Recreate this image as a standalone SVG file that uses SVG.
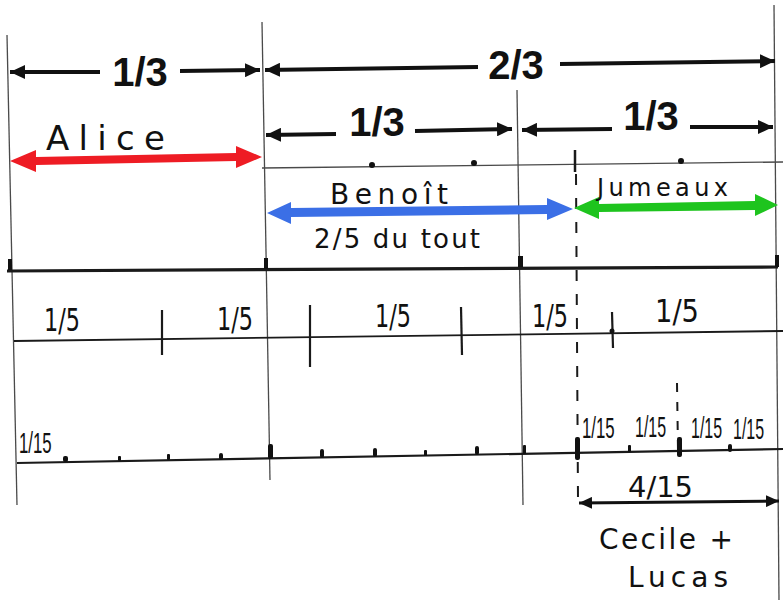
<svg xmlns="http://www.w3.org/2000/svg" width="783" height="608" viewBox="0 0 783 608">
<style>
.grid{stroke:#4a4a4a;stroke-width:1.3;fill:none}
.rule{stroke:#1a1a1a;fill:none}
.arr{stroke:#111;stroke-width:4;fill:none}
.big{font-family:"Liberation Sans",Arial,sans-serif;font-weight:bold;font-size:40px;fill:#111}
.hand{font-family:"DejaVu Sans","Noto Sans",sans-serif;fill:#111}
.frac{font-family:"Liberation Sans",Arial,sans-serif;font-size:16px;fill:#111}
.blob{fill:#111}
</style>
<defs>
<marker id="ah" markerUnits="userSpaceOnUse" markerWidth="16" markerHeight="14" refX="15" refY="7" orient="auto">
<path d="M0,0 L15,7 L0,14 z" fill="#111"/>
</marker>
<marker id="ahs" markerUnits="userSpaceOnUse" markerWidth="14" markerHeight="12" refX="13" refY="6" orient="auto-start-reverse">
<path d="M0,0 L13,6 L0,12 z" fill="#111"/>
</marker>
</defs>
<rect width="783" height="608" fill="#fff"/>

<g id="grid">
<line class="grid" x1="7" y1="35" x2="17" y2="505"/>
<line class="grid" x1="262" y1="22" x2="270" y2="480"/>
<line class="grid" x1="517" y1="90" x2="523" y2="505"/>
<line class="grid" x1="774" y1="5" x2="779" y2="600"/>
<line class="grid" x1="262" y1="168" x2="783" y2="162"/>
<line class="rule" stroke-width="3.2" x1="7" y1="271" x2="778" y2="267"/>
<line class="rule" stroke-width="1.8" x1="14" y1="341" x2="783" y2="331"/>
<line class="rule" stroke-width="2.2" x1="17" y1="463" x2="783" y2="449"/>
<line class="rule" stroke-width="2" stroke-dasharray="11 13" x1="576" y1="174" x2="578" y2="500"/>
<line class="rule" stroke-width="2" stroke-dasharray="9 10" x1="677" y1="383" x2="678" y2="450"/>
<line class="rule" stroke-width="2.5" x1="575" y1="150" x2="575" y2="172"/>
</g>

<g id="ticks">
<rect class="blob" x="8" y="259" width="4" height="11"/>
<rect class="blob" x="264" y="258" width="4" height="11"/>
<rect class="blob" x="518" y="256" width="5" height="11"/>
<rect class="blob" x="775" y="255" width="4" height="12"/>
<circle class="blob" cx="372" cy="165" r="3"/>
<circle class="blob" cx="474" cy="163" r="3"/>
<circle class="blob" cx="681" cy="161" r="3"/>
<line class="rule" stroke-width="2.2" x1="162" y1="310" x2="162" y2="355"/>
<line class="rule" stroke-width="2.2" x1="310" y1="305" x2="310" y2="367"/>
<line class="rule" stroke-width="2.2" x1="461" y1="307" x2="462" y2="355"/>
<line class="rule" stroke-width="2.2" x1="612" y1="312" x2="613" y2="348"/>
<circle class="blob" cx="612" cy="331" r="2.5"/>
<g class="blob">
<rect x="63" y="456" width="5" height="6" rx="2"/>
<rect x="118" y="456" width="3" height="5" rx="1"/>
<rect x="167" y="454" width="3" height="6" rx="1"/>
<rect x="219" y="453" width="4" height="7" rx="2"/>
<rect x="268" y="444" width="5" height="15" rx="2"/>
<rect x="320" y="449" width="4" height="9" rx="2"/>
<rect x="373" y="448" width="4" height="9" rx="2"/>
<rect x="424" y="450" width="3" height="6" rx="1"/>
<rect x="475" y="446" width="4" height="9" rx="2"/>
<rect x="523" y="445" width="3" height="9" rx="1"/>
<rect x="575" y="437" width="5" height="23" rx="2"/>
<rect x="628" y="445" width="3" height="7" rx="1"/>
<rect x="677" y="437" width="5" height="20" rx="2"/>
<rect x="728" y="444" width="4" height="8" rx="2"/>
</g>
</g>

<g id="connectors">
<line class="arr" marker-end="url(#ah)" x1="100" y1="72" x2="10" y2="72"/>
<line class="arr" marker-end="url(#ah)" x1="180" y1="71" x2="260" y2="70"/>
<line class="arr" marker-end="url(#ah)" x1="478" y1="67" x2="265" y2="70"/>
<line class="arr" marker-end="url(#ah)" x1="560" y1="64" x2="775" y2="61"/>
<line class="arr" marker-end="url(#ah)" x1="336" y1="134" x2="266" y2="135"/>
<line class="arr" marker-end="url(#ah)" x1="415" y1="131" x2="512" y2="129"/>
<line class="arr" marker-end="url(#ah)" x1="612" y1="129" x2="522" y2="130"/>
<line class="arr" marker-end="url(#ah)" x1="690" y1="127" x2="773" y2="127"/>
<line stroke="#111" stroke-width="3" marker-start="url(#ahs)" marker-end="url(#ahs)" x1="579" y1="503" x2="779" y2="501"/>
<polygon fill="#ee1c24" points="10,161 36,150 36,157 236,153 236,146 262,157 236,168 236,161 36,165 36,172"/>
<polygon fill="#3b6fe6" points="267,213 291,202 291,208 547,205 547,198 573,209 547,220 547,214 291,217 291,224"/>
<polygon fill="#1ec41e" points="574,208 599,197 599,204 755,201 755,194 778,205 755,216 755,210 599,212 599,219"/>
</g>

<g id="label-top-third"><text class="big" x="140" y="86" text-anchor="middle">1/3</text></g>
<g id="label-two-thirds"><text class="big" x="516" y="79" text-anchor="middle" font-size="43">2/3</text></g>
<g id="label-benoit-third"><text class="big" x="377" y="136" text-anchor="middle">1/3</text></g>
<g id="label-twins-third"><text class="big" x="651" y="130" text-anchor="middle">1/3</text></g>

<g id="alice"><text class="hand" x="46" y="150" font-size="34" textLength="119" lengthAdjust="spacing">Alice</text></g>
<g id="benoit">
<text class="hand" x="330" y="204" font-size="28" textLength="118" lengthAdjust="spacing">Benoît</text>
<text class="hand" x="314" y="248" font-size="26" textLength="166" lengthAdjust="spacing">2/5 du tout</text>
</g>
<g id="jumeaux"><text class="hand" x="597" y="196" font-size="24" textLength="131" lengthAdjust="spacing">Jumeaux</text></g>

<g id="fifths" class="hand" font-size="32">
<text x="44" y="331" textLength="36" lengthAdjust="spacingAndGlyphs">1/5</text>
<text x="217" y="330" textLength="36" lengthAdjust="spacingAndGlyphs">1/5</text>
<text x="375" y="327" textLength="36" lengthAdjust="spacingAndGlyphs">1/5</text>
<text x="532" y="327" textLength="36" lengthAdjust="spacingAndGlyphs">1/5</text>
<text x="655" y="322" textLength="44" lengthAdjust="spacingAndGlyphs">1/5</text>
</g>

<g id="fifteenths" class="frac">
<text transform="translate(19,453) scale(1.05,1.9)">1/15</text>
<text transform="translate(582,438) scale(1.05,1.9)">1/15</text>
<text transform="translate(635,437) scale(1,1.9)">1/15</text>
<text transform="translate(691,438) scale(1,1.9)">1/15</text>
<text transform="translate(733,439) scale(1,1.9)">1/15</text>
</g>

<g id="cecile-lucas">
<text class="hand" x="628" y="497" font-size="28" textLength="65" lengthAdjust="spacingAndGlyphs">4/15</text>
<text class="hand" x="599" y="549" font-size="28" textLength="134" lengthAdjust="spacing">Cecile +</text>
<text class="hand" x="628" y="587" font-size="28" textLength="100" lengthAdjust="spacing">Lucas</text>
</g>
</svg>
